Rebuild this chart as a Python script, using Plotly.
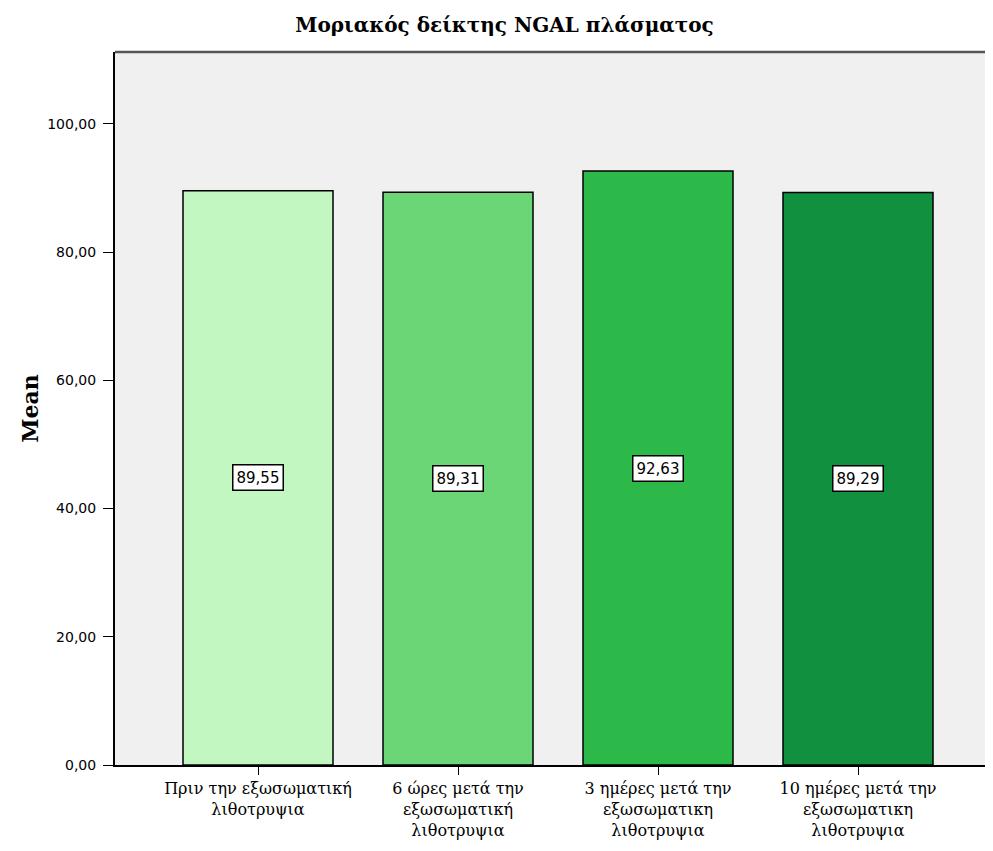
import plotly.graph_objects as go

categories = [
    "Πριν την εξωσωματική<br>λιθοτρυψια",
    "6 ώρες μετά την<br>εξωσωματική<br>λιθοτρυψια",
    "3 ημέρες μετά την<br>εξωσωματικη<br>λιθοτρυψια",
    "10 ημέρες μετά την<br>εξωσωματικη<br>λιθοτρυψια",
]
means = [89.55, 89.31, 92.63, 89.29]
bar_colors = ["#c2f7c2", "#6bd676", "#2db84a", "#11913f"]
y_ticks = [0, 20, 40, 60, 80, 100]

fig = go.Figure()
fig.add_trace(
    go.Bar(
        x=list(range(len(categories))),
        y=means,
        width=0.75,
        marker=dict(color=bar_colors, line=dict(color="black", width=1.5)),
        hoverinfo="y",
    )
)

for i, v in enumerate(means):
    fig.add_annotation(
        x=i, y=v / 2, xref="x", yref="y",
        text=f"{v:.2f}".replace(".", ","),
        showarrow=False,
        font=dict(family="DejaVu Sans", size=15, color="black"),
        bgcolor="white",
        bordercolor="black",
        borderwidth=1.5,
        borderpad=3,
    )

# top frame line
fig.add_shape(type="line", xref="paper", yref="paper", x0=0, x1=1, y0=1, y1=1,
              line=dict(color="#555555", width=2.5))

fig.update_layout(
    width=993,
    height=851,
    margin=dict(l=107, r=0, t=44, b=94),
    paper_bgcolor="white",
    plot_bgcolor="#f0f0f0",
    separators=",.",
    showlegend=False,
    title=dict(
        text="<b>Μοριακός δείκτης NGAL πλάσματος</b>",
        x=0.5, xanchor="center", y=0.98, yanchor="middle",
        font=dict(family="DejaVu Serif", size=20, color="black"),
    ),
    xaxis=dict(
        range=[-0.715, 3.715],
        tickvals=list(range(len(categories))),
        ticktext=categories,
        ticks="outside",
        ticklen=8,
        tickcolor="black",
        showline=True,
        linecolor="black",
        linewidth=2,
        showgrid=False,
        zeroline=False,
        tickfont=dict(family="DejaVu Serif", size=16, color="black"),
    ),
    yaxis=dict(
        range=[0, 111.2],
        tickvals=y_ticks,
        tickformat=".2f",
        ticks="outside",
        ticklen=10,
        ticklabelstandoff=4,
        tickcolor="black",
        showline=True,
        linecolor="black",
        linewidth=2,
        showgrid=False,
        zeroline=False,
        tickfont=dict(family="DejaVu Sans", size=14, color="black"),
        title=dict(
            text="<b>Mean</b>",
            font=dict(family="DejaVu Serif", size=22, color="black"),
            standoff=3,
        ),
    ),
)

fig.write_html("out.html")
